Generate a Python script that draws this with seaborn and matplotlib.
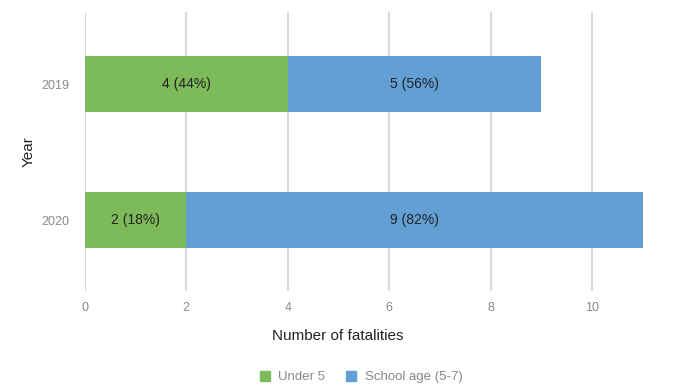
import pandas as pd
import numpy as np
import matplotlib
matplotlib.use("Agg")
import matplotlib.pyplot as plt
import seaborn as sns
from matplotlib.lines import Line2D

# -----------------------------
# Data
# -----------------------------
years = ["2019", "2020"]
under_5 = [4, 2]
school_age = [5, 9]

green = "#7dba59"
blue = "#629fd5"

df = pd.DataFrame({"Year": years, "Under 5": under_5, "School age (5-7)": school_age})
df["Total"] = df["Under 5"] + df["School age (5-7)"]

sns.set_style("white")
plt.rcParams["font.family"] = ["Liberation Sans", "DejaVu Sans"]

fig = plt.figure(figsize=(6.84, 3.91), dpi=100)
ax = fig.add_axes([0.124, 0.256, 0.853, 0.713])

# stacked bars: total first, then under 5 on top
sns.barplot(data=df, y="Year", x="Total", color=blue, orient="h", width=0.41,
            saturation=1, linewidth=0, ax=ax, zorder=3)
sns.barplot(data=df, y="Year", x="Under 5", color=green, orient="h", width=0.41,
            saturation=1, linewidth=0, ax=ax, zorder=3)

# labels
for i, row in df.iterrows():
    u, s, t = row["Under 5"], row["School age (5-7)"], row["Total"]
    ax.text(u / 2, i, f"{u} ({round(100 * u / t)}%)", ha="center", va="center",
            fontsize=10, color="#222222", zorder=4)
    ax.text(u + s / 2, i, f"{s} ({round(100 * s / t)}%)", ha="center", va="center",
            fontsize=10, color="#222222", zorder=4)

ax.set_xlim(0, 11.5)
ax.set_ylim(1.52, -0.53)
ax.set_xticks([0, 2, 4, 6, 8, 10])
ax.grid(axis="x", color="#d9d9d9", linewidth=1.5, zorder=0)
ax.grid(axis="y", visible=False)
for sp in ax.spines.values():
    sp.set_visible(False)
ax.tick_params(axis="both", length=0, labelsize=9, labelcolor="#888888")
ax.tick_params(axis="x", pad=8)
ax.tick_params(axis="y", pad=11)
ax.set_xlabel("Number of fatalities", fontsize=11, color="#222222")
ax.set_ylabel("Year", fontsize=11, color="#222222")
ax.xaxis.set_label_coords((338 - 85) / (0.853 * 684), -0.135)
ax.yaxis.set_label_coords(-0.085, 0.5)

handles = [
    Line2D([], [], marker="s", linestyle="", markersize=7, color=green, label="Under 5"),
    Line2D([], [], marker="s", linestyle="", markersize=7, color=blue, label="School age (5-7)"),
]
leg = fig.legend(handles=handles, loc="center", bbox_to_anchor=(357 / 684, 1 - 377 / 391),
                 ncol=2, frameon=False, fontsize=9.5, handletextpad=0.0, columnspacing=1.0)
for t in leg.get_texts():
    t.set_color("#888888")

fig.savefig("out.png", dpi=100)
